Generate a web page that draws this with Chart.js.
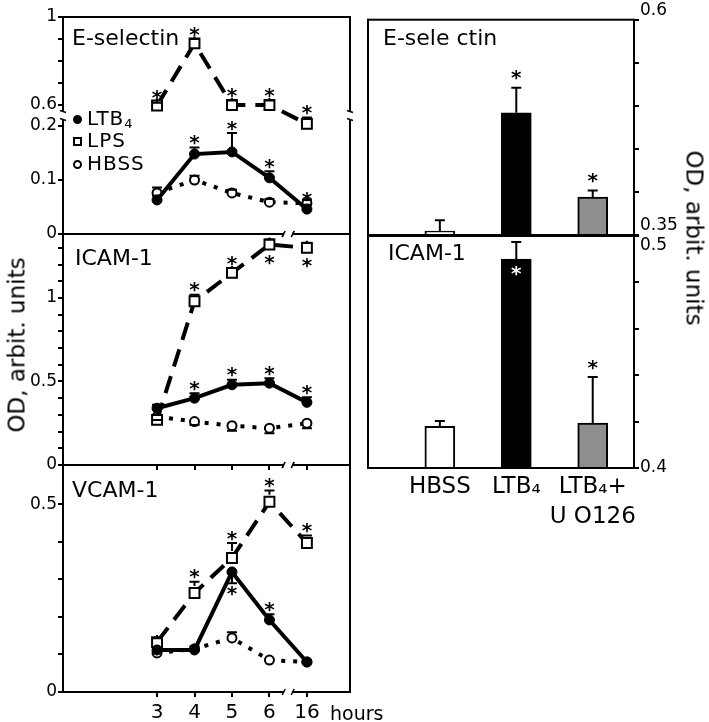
<!DOCTYPE html>
<html>
<head>
<meta charset="utf-8">
<title>Adhesion molecules OD</title>
<script src="https://cdn.jsdelivr.net/npm/chart.js@4.4.1/dist/chart.umd.min.js"></script>
<style>
  body { margin: 0; background: #fff; }
  #fig { position: relative; width: 709px; height: 722px; font-family: "DejaVu Sans", sans-serif; color: #000; overflow: hidden; }
  #fig canvas { position: absolute; left: 0; top: 0; }
  .t { position: absolute; white-space: nowrap; line-height: 1; }
  .t sub { font-size: 0.65em; line-height: 0; vertical-align: -0.25em; }
  .mk { display: inline-block; box-sizing: border-box; width: 9px; height: 9px; margin-right: 5px; border: 2px solid #000; vertical-align: 1px; }
  .rot { transform: translate(-50%, -50%) rotate(-90deg); }
  .rot2 { transform: translate(-50%, -50%) rotate(90deg); }
</style>
</head>
<body>
<div id="fig">
  <canvas id="c1" width="709" height="722"></canvas>
  <canvas id="c2" width="709" height="722"></canvas>
  <canvas id="c3" width="709" height="722"></canvas>
  <canvas id="c4" width="709" height="722"></canvas>
  <canvas id="c5" width="709" height="722"></canvas>

  <div class="t" style="left:72px;top:27px;font-size:22px">E-selectin</div>
  <div class="t" style="left:75px;top:247px;font-size:22px">ICAM-1</div>
  <div class="t" style="left:72px;top:479px;font-size:22px">VCAM-1</div>
  <div class="t" style="left:383px;top:27px;font-size:22px">E-sele ctin</div>
  <div class="t" style="left:388px;top:242px;font-size:22px">ICAM-1</div>

  <div class="t" style="left:73px;top:108px;font-size:20px;letter-spacing:1px"><span class="mk" style="background:#000;border-radius:50%"></span>LTB<sub>4</sub></div>
  <div class="t" style="left:73px;top:130px;font-size:20px;letter-spacing:1px"><span class="mk"></span>LPS</div>
  <div class="t" style="left:73px;top:153px;font-size:20px;letter-spacing:1px"><span class="mk" style="border-radius:50%"></span>HBSS</div>

  <div class="t" style="left:330px;top:704px;font-size:19px">hours</div>
  <div class="t rot" style="left:17px;top:345px;font-size:23px">OD, arbit. units</div>
  <div class="t rot2" style="left:694px;top:238px;font-size:23px">OD, arbit. units</div>
</div>

<script>
// time points; 16 h sits behind the axis break at position 7
var hours = ['3', '4', '5', '6', '16'];
var hourPos = [3, 4, 5, 6, 7];

// E-selectin time course (broken y axis)
var eselLtb = [0.063, 0.148, 0.152, 0.104, 0.046];
var eselLps = [0.59, 0.88, 0.60, 0.60, 0.24];
var eselHbss = [0.076, 0.100, 0.076, 0.059, 0.057];
var eselLtbErr = [0.008, 0.012, 0.035, 0.012, 0.008];
var eselLpsErr = [0.02, 0.02, 0.02, 0.02, 0.12];
var eselHbssErr = [0.01, 0.008, 0.006, 0.006, 0.006];
var eselLtbStar = [0, 1, 1, 1, 1];
var eselLpsStar = [1, 1, 1, 1, 1];
var eselTicks = [0, 0.1, 0.2, 0.6, 0.7, 0.8, 0.9, 1];
var eselTickLbl = ['0', '0.1', '0.2', '0.6', '', '', '', '1'];

// ICAM-1 time course
var icamLtb = [0.34, 0.40, 0.48, 0.49, 0.375];
var icamLps = [0.27, 0.98, 1.15, 1.32, 1.30];
var icamHbss = [0.29, 0.26, 0.235, 0.22, 0.25];
var icamLtbErr = [0.02, 0.03, 0.03, 0.03, 0.03];
var icamLpsErr = [0.03, 0.04, 0.03, 0.03, 0.03];
var icamHbssErr = [-0.02, -0.02, -0.03, -0.03, -0.03];
var icamLtbStar = [0, 1, 1, 1, 1];
var icamLpsStar = [0, 1, 1, -1, -1];
var icamTicks = [0, 0.1, 0.2, 0.3, 0.4, 0.5, 0.6, 0.7, 0.8, 0.9, 1, 1.1, 1.2, 1.3];
var icamTickLbl = ['0', '', '', '', '', '0.5', '', '', '', '', '1', '', '', ''];

// VCAM-1 time course
var vcamLtb = [0.112, 0.112, 0.32, 0.192, 0.08];
var vcamLps = [0.133, 0.264, 0.357, 0.507, 0.397];
var vcamHbss = [0.104, 0.115, 0.144, 0.085, 0.08];
var vcamLtbErr = [0.005, 0.01, -0.03, 0.015, 0.005];
var vcamLpsErr = [0.01, 0.03, 0.04, 0.03, 0.02];
var vcamHbssErr = [0, 0, 0.015, 0, 0];
var vcamLtbStar = [0, 0, -1, 1, 0];
var vcamLpsStar = [0, 1, 1, 1, 1];
var vcamTicks = [0, 0.1, 0.2, 0.3, 0.4, 0.5];
var vcamTickLbl = ['0', '', '', '', '', '0.5'];

// bar panels
var barCats = ['HBSS', 'LTB\u2084', ['LTB\u2084+', 'U O126']];
var barPos = [1, 2, 3];
var barColors = ['#ffffff', '#000000', '#8e8e8e'];
var eselBar = [0.3546, 0.492, 0.394];
var eselBarErr = [0.0126, 0.029, 0.0076];
var eselBarStar = [0, 1, 1];
var eselBarTicks = [0.35, 0.4, 0.45, 0.5, 0.55, 0.6];
var eselBarTickLbl = [['0.35', ''], '', '', '', '', ['0.6', '']];
var icamBar = [0.418, 0.490, 0.4194];
var icamBarErr = [0.0023, 0.0074, 0.0198];
var icamBarStar = [0, -1, 1];
var icamBarTicks = [0.4, 0.42, 0.44, 0.46, 0.48, 0.5];
var icamBarTickLbl = ['0.4', '', '', '', '', ['', '0.5']];

Chart.defaults.font.family = '"DejaVu Sans", sans-serif';
Chart.defaults.color = '#000';

// broken E-selectin axis: 0-0.2 stretched, 0.6-1 compressed
function brk(v) {
    if (v <= 0.2) return v * 540;
    if (v >= 0.6) return 129 + (v - 0.6) * 220;
    return 108 + (v - 0.2) / 0.4 * 21;
}
function same(v) { return v; }

var STAR = 20;

var marks = {
    id: 'marks',
    afterDatasetsDraw: function (chart, args, opts) {
        var ctx = chart.ctx, ys = chart.scales.y;
        var tf = opts.tf || same;
        ctx.save();
        ctx.lineWidth = 2;
        chart.data.datasets.forEach(function (ds, i) {
            var meta = chart.getDatasetMeta(i);
            var isBar = meta.type === 'bar';
            var r = isBar ? 0 : (ds.pointRadius || 0);
            var gap = isBar ? 9 : 4;
            meta.data.forEach(function (el, j) {
                var v = ds.real[j];
                var e = ds.err ? ds.err[j] : 0;
                var s = ds.star ? ds.star[j] : 0;
                var up = el.y - r, down = isBar ? el.y : el.y + r;
                if (e) {
                    var ye = ys.getPixelForValue(tf(v + e));
                    var y0 = e > 0 ? up : down;
                    ctx.strokeStyle = '#000';
                    ctx.beginPath();
                    ctx.moveTo(el.x, y0);
                    ctx.lineTo(el.x, ye);
                    ctx.moveTo(el.x - 5, ye);
                    ctx.lineTo(el.x + 5, ye);
                    ctx.stroke();
                    if (e > 0) up = ye; else down = ye;
                }
                if (s) {
                    ctx.fillStyle = (isBar && s < 0) ? '#fff' : '#000';
                    ctx.font = 'bold ' + STAR + 'px "DejaVu Sans"';
                    ctx.textAlign = 'center';
                    ctx.textBaseline = 'alphabetic';
                    var b = s > 0 ? up - gap + 0.28 * STAR : down + (isBar ? 6 : 2) + 0.76 * STAR;
                    ctx.fillText('*', el.x, b);
                }
            });
        });
        ctx.restore();
    },
    afterDraw: function (chart, args, opts) {
        var ctx = chart.ctx, a = chart.chartArea;
        ctx.save();
        ctx.strokeStyle = '#000';
        ctx.lineWidth = 2;
        ctx.strokeRect(a.left, a.top, a.right - a.left, a.bottom - a.top);
        function gapX(x, y) {
            ctx.fillStyle = '#fff';
            ctx.fillRect(x - 4, y - 3, 8, 6);
            ctx.lineWidth = 1.5;
            ctx.beginPath();
            ctx.moveTo(x - 6, y + 3); ctx.lineTo(x - 3, y - 3);
            ctx.moveTo(x + 3, y + 3); ctx.lineTo(x + 6, y - 3);
            ctx.stroke();
        }
        function gapY(x, y) {
            ctx.fillStyle = '#fff';
            ctx.fillRect(x - 3, y - 4, 6, 8);
            ctx.lineWidth = 1.5;
            ctx.beginPath();
            ctx.moveTo(x - 3, y - 5); ctx.lineTo(x + 3, y - 3);
            ctx.moveTo(x - 3, y + 3); ctx.lineTo(x + 3, y + 5);
            ctx.stroke();
        }
        if (opts.brkX) {
            var bx = chart.scales.x.getPixelForValue(opts.brkX);
            gapX(bx, a.bottom);
            if (opts.brkTop) gapX(bx, a.top);
        }
        if (opts.brkY) {
            var by = chart.scales.y.getPixelForValue(opts.brkY);
            gapY(a.left, by);
            gapY(a.right, by);
        }
        ctx.restore();
    }
};

var styles = {
    ltb: { borderColor: '#000', borderWidth: 4, pointStyle: 'circle', pointRadius: 5, pointBackgroundColor: '#000', pointBorderColor: '#000', pointBorderWidth: 1 },
    lps: { borderColor: '#000', borderWidth: 4, borderDash: [18, 10], pointStyle: 'rect', pointRadius: 7, pointBackgroundColor: '#fff', pointBorderColor: '#000', pointBorderWidth: 2 },
    hbss: { borderColor: '#000', borderWidth: 4, borderDash: [4, 8], pointStyle: 'circle', pointRadius: 4.5, pointBackgroundColor: '#fff', pointBorderColor: '#000', pointBorderWidth: 2 }
};

function lineSet(style, vals, err, star, tf) {
    var ds = Object.assign({}, style);
    ds.data = vals.map(function (v, i) { return { x: hourPos[i], y: tf(v) }; });
    ds.real = vals;
    ds.err = err;
    ds.star = star;
    ds.tension = 0;
    ds.fill = false;
    return ds;
}

function yAxis(pos, min, max, ticks, lbls, tf) {
    return {
        type: 'linear', position: pos, min: min, max: max, bounds: 'data', beginAtZero: false,
        afterFit: function (s) { s.width = 50; },
        afterBuildTicks: function (s) { s.ticks = ticks.map(function (v) { return { value: tf(v) }; }); },
        grid: { drawOnChartArea: false, drawTicks: true, tickLength: 5, color: '#000', lineWidth: 2 },
        border: { display: false },
        ticks: { autoSkip: false, padding: 1, font: { size: 17, lineHeight: 1.1 }, callback: function (v, i) { return lbls[i]; } }
    };
}

function hourAxis(mode) {
    return {
        type: 'linear', min: 0.49, max: 8.15, offset: false, display: mode !== 'none',
        afterFit: function (s) { s.height = mode === 'full' ? 30 : (mode === 'ticks' ? 5 : 0); },
        afterBuildTicks: function (s) { s.ticks = hourPos.map(function (v) { return { value: v }; }); },
        grid: { drawOnChartArea: false, drawTicks: true, tickLength: 5, color: '#000', lineWidth: 2 },
        border: { display: false },
        ticks: { display: mode === 'full', autoSkip: false, maxRotation: 0, padding: 4, font: { size: 20 },
            callback: function (v, i) { return hours[i]; } }
    };
}

function makeLine(id, pad, yMax, ticks, lbls, tf, sets, mode, brkTop, brkY) {
    return new Chart(document.getElementById(id), {
        type: 'line',
        data: { datasets: sets },
        options: {
            responsive: false, animation: false,
            layout: { padding: pad },
            plugins: { legend: { display: false }, tooltip: { enabled: false },
                marks: { tf: tf, brkX: 6.5, brkTop: brkTop, brkY: brkY } },
            scales: { x: hourAxis(mode), y: yAxis('left', 0, yMax, ticks, lbls, tf) }
        },
        plugins: [marks]
    });
}

function makeBar(id, pad, yMin, yMax, vals, err, star, ticks, lbls, showX) {
    return new Chart(document.getElementById(id), {
        type: 'bar',
        data: {
            datasets: [{
                data: vals.map(function (v, i) { return { x: barPos[i], y: v }; }),
                real: vals, err: err, star: star,
                base: yMin,
                backgroundColor: barColors, borderColor: '#000', borderWidth: 2,
                barThickness: 30
            }]
        },
        options: {
            responsive: false, animation: false,
            layout: { padding: pad },
            plugins: { legend: { display: false }, tooltip: { enabled: false }, marks: {} },
            scales: {
                x: {
                    type: 'linear', min: 0.06, max: 3.54, offset: false, display: showX,
                    afterFit: function (s) { s.height = showX ? 60 : 0; },
                    afterBuildTicks: function (s) { s.ticks = barPos.map(function (v) { return { value: v }; }); },
                    grid: { display: false, drawTicks: false },
                    border: { display: false },
                    ticks: { autoSkip: false, maxRotation: 0, padding: 4, font: { size: 23, lineHeight: 1.3 },
                        callback: function (v, i) { return barCats[i]; } }
                },
                y: yAxis('right', yMin, yMax, ticks, lbls, same)
            }
        },
        plugins: [marks]
    });
}

makeLine('c1', { left: 13, right: 359, top: 17, bottom: 488 }, brk(1), eselTicks, eselTickLbl, brk, [
    lineSet(styles.ltb, eselLtb, eselLtbErr, eselLtbStar, brk),
    lineSet(styles.lps, eselLps, eselLpsErr, eselLpsStar, brk),
    lineSet(styles.hbss, eselHbss, eselHbssErr, null, brk)
], 'none', false, brk(0.4));

makeLine('c2', { left: 13, right: 359, top: 234, bottom: 252 }, 1.383, icamTicks, icamTickLbl, same, [
    lineSet(styles.ltb, icamLtb, icamLtbErr, icamLtbStar, same),
    lineSet(styles.lps, icamLps, icamLpsErr, icamLpsStar, same),
    lineSet(styles.hbss, icamHbss, icamHbssErr, null, same)
], 'ticks', true, null);

makeLine('c3', { left: 13, right: 359, top: 465, bottom: 0 }, 0.605, vcamTicks, vcamTickLbl, same, [
    lineSet(styles.ltb, vcamLtb, vcamLtbErr, vcamLtbStar, same),
    lineSet(styles.lps, vcamLps, vcamLpsErr, vcamLpsStar, same),
    lineSet(styles.hbss, vcamHbss, vcamHbssErr, null, same)
], 'full', true, null);

makeBar('c4', { left: 368, right: 25, top: 17, bottom: 487 }, 0.35, 0.6, eselBar, eselBarErr, eselBarStar, eselBarTicks, eselBarTickLbl, false);
makeBar('c5', { left: 368, right: 25, top: 236, bottom: 194 }, 0.4, 0.5, icamBar, icamBarErr, icamBarStar, icamBarTicks, icamBarTickLbl, true);
</script>
</body>
</html>
